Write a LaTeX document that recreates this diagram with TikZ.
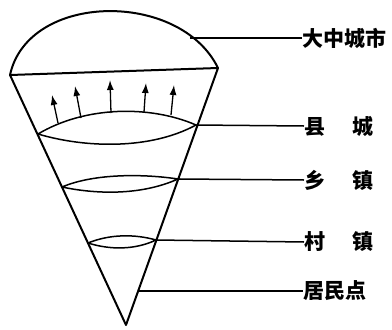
\documentclass[tikz,border=0pt]{standalone}
\usepackage{fontspec}
\newfontfamily\cjk{Noto Sans CJK SC}
\usetikzlibrary{arrows.meta}

\begin{document}
\begin{tikzpicture}[x=1pt, y=-1pt,
    edge/.style={line width=2pt, line join=round},
    ring/.style={line width=1.5pt},
    lead/.style={line width=1.5pt},
    flow/.style={line width=1.3pt, -{Latex[length=10pt, width=7pt]}},
    tag/.style={anchor=west, inner sep=0pt, font=\cjk\bfseries\fontsize{21}{21}\selectfont}]
    \useasboundingbox (0,0) rectangle (392,330);

    % Cone with its dome
    \coordinate (rimL) at (10,75);
    \coordinate (rimR) at (218,68);
    \coordinate (tip) at (126,325);
    \draw[edge] (rimL) .. controls (28,-8) and (180,-10) .. (rimR);
    \draw[edge] (rimL) -- (tip) -- (rimR) -- cycle;
    \coordinate (domeP) at (190,38);

    % Rings cut through the cone
    \coordinate (countyL) at (38,134);
    \coordinate (countyR) at (196,125);
    \draw[ring] (countyL) .. controls (85,106) and (150,105) .. (countyR)
        .. controls (150,150) and (85,148) .. (countyL);
    \coordinate (townL) at (62,187);
    \coordinate (townR) at (178,179);
    \draw[ring] (townL) .. controls (95,173) and (145,174) .. (townR)
        .. controls (140,196) and (95,194) .. (townL);
    \coordinate (villageL) at (88,243);
    \coordinate (villageR) at (156,240);
    \draw[ring] (villageL) .. controls (110,234) and (135,234) .. (villageR)
        .. controls (135,250) and (110,250) .. (villageL);
    \coordinate (spotP) at (138,291);

    % Arrows rising out of the county ring
    \foreach \sx/\sy/\ex/\ey in {58/123/52/95, 81/118/75/86, 111/113/110/80, 144/112/146/83, 171/115/174/85}
        \draw[flow] (\sx,\sy) -- (\ex,\ey);

    % Labels and leaders
    \node[tag] (big) at (302,38) {大中城市};
    \node[tag] (county) at (304,126) {县\hspace{1.3em}城};
    \node[tag] (town) at (304,180) {乡\hspace{1.3em}镇};
    \node[tag] (village) at (304,242) {村\hspace{1.3em}镇};
    \node[tag] (spot) at (303,291) {居民点};
    \draw[lead] (domeP) -- (big.west);
    \draw[lead] (countyR) -- (county.west);
    \draw[lead] (townR) -- (town.west);
    \draw[lead] (villageR) -- (village.west);
    \draw[lead] (spotP) -- (spot.west);
\end{tikzpicture}
\end{document}
